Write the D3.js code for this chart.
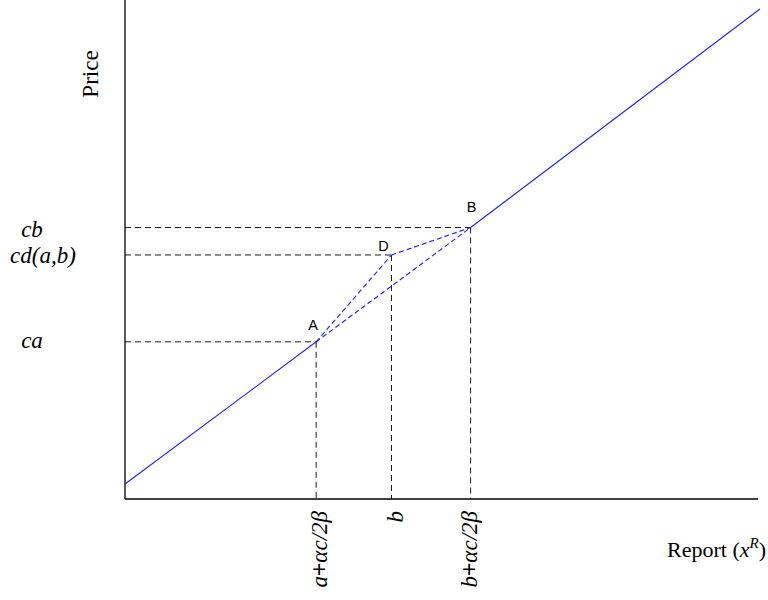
<!DOCTYPE html>
<html><head><meta charset="utf-8">
<script src="https://cdn.jsdelivr.net/npm/d3@7"></script>
<style>body{margin:0;background:#fff}</style>
</head><body>
<svg id="c" width="768" height="600"></svg>
<script>
// data (abstract units: x report 0..100, y price 0..100)
const lineLow = [[0, 3.0], [30.2, 31.5]];
const lineHigh = [[54.6, 54.4], [100.3, 98.2]];
const pointNames = ["A", "D", "B"];
const pointX = [30.2, 42.1, 54.6];
const pointY = [31.5, 48.9, 54.4];
const xTickVals = [30.2, 42.1, 54.6];
const xTickLabels = ["a+αc/2β", "b", "b+αc/2β"];
const yTickVals = [54.4, 48.9, 31.5];
const yTickLabels = ["cb", "cd(a,b)", "ca"];

const svg = d3.select("#c");
const x = d3.scaleLinear().domain([0, 100]).range([125, 758]);
const y = d3.scaleLinear().domain([0, 100]).range([499, 0]);
const serif = "Liberation Serif, Times New Roman, serif";

// axes lines
svg.append("line").attr("x1", x(0)).attr("x2", x(0)).attr("y1", y(100)).attr("y2", y(0)).attr("stroke", "#000").attr("stroke-width", 1.3);
svg.append("line").attr("x1", x(0)).attr("x2", x(100)).attr("y1", y(0)).attr("y2", y(0)).attr("stroke", "#000").attr("stroke-width", 1.3);

const g = d3.line().x(d => x(d[0])).y(d => y(d[1]));

// black dashed guides
pointNames.forEach((n, i) => {
  svg.append("line").attr("x1", x(0)).attr("x2", x(pointX[i])).attr("y1", y(pointY[i])).attr("y2", y(pointY[i]))
    .attr("stroke", "#000").attr("stroke-width", 0.9).attr("stroke-dasharray", "6,4");
  svg.append("line").attr("x1", x(pointX[i])).attr("x2", x(pointX[i])).attr("y1", y(pointY[i])).attr("y2", y(0))
    .attr("stroke", "#000").attr("stroke-width", 0.9).attr("stroke-dasharray", "6,4");
});

// blue solid line parts
[lineLow, lineHigh].forEach(seg => svg.append("path").attr("d", g(seg)).attr("fill", "none").attr("stroke", "#2020ff").attr("stroke-width", 1.1));

// blue dashed lines A-B, A-D, D-B
const A = [pointX[0], pointY[0]], D = [pointX[1], pointY[1]], B = [pointX[2], pointY[2]];
[[A, B], [A, D], [D, B]].forEach(seg => svg.append("path").attr("d", g(seg)).attr("fill", "none")
  .attr("stroke", "#2020ff").attr("stroke-width", 1.1).attr("stroke-dasharray", "5,3"));

// point labels
const lblOff = [[-3, -12], [-8, -4], [1, -16]];
pointNames.forEach((n, i) => {
  svg.append("text").attr("x", x(pointX[i]) + lblOff[i][0]).attr("y", y(pointY[i]) + lblOff[i][1])
    .attr("text-anchor", "middle").attr("font-family", "Liberation Sans, Arial, sans-serif").attr("font-size", 14.5).text(n);
});

// y tick labels (italic serif)
const yLblX = [32, 43, 32];
const yLblDy = [9, 8, 6];
yTickVals.forEach((v, i) => {
  svg.append("text").attr("x", yLblX[i]).attr("y", y(v) + yLblDy[i]).attr("text-anchor", "middle")
    .attr("font-family", serif).attr("font-style", "italic").attr("font-size", 23).text(yTickLabels[i]);
});

// x tick labels rotated; "+" drawn upright
const xLblDx = [11, 12, 6];
xTickVals.forEach((v, i) => {
  const t = svg.append("text").attr("transform", `translate(${x(v) + xLblDx[i]},511) rotate(-90)`).attr("text-anchor", "end")
    .attr("font-family", serif).attr("font-style", "italic").attr("font-size", 23);
  xTickLabels[i].split(/(\+)/).forEach(part => {
    if (part === "+") t.append("tspan").attr("font-style", "normal").attr("font-family", "Liberation Sans, Arial, sans-serif").text(part);
    else if (part) t.append("tspan").text(part);
  });
});

// axis titles
svg.append("text").attr("transform", "translate(98,74) rotate(-90)").attr("text-anchor", "middle")
  .attr("font-family", serif).attr("font-size", 23).text("Price");
const rt = svg.append("text").attr("x", 766).attr("y", 557).attr("text-anchor", "end")
  .attr("font-family", serif).attr("font-size", 22);
rt.append("tspan").text("Report (");
rt.append("tspan").attr("font-style", "italic").text("x");
rt.append("tspan").attr("font-style", "italic").attr("font-size", 15).attr("dy", -9).text("R");
rt.append("tspan").attr("dy", 9).text(")");
</script>
</body></html>
